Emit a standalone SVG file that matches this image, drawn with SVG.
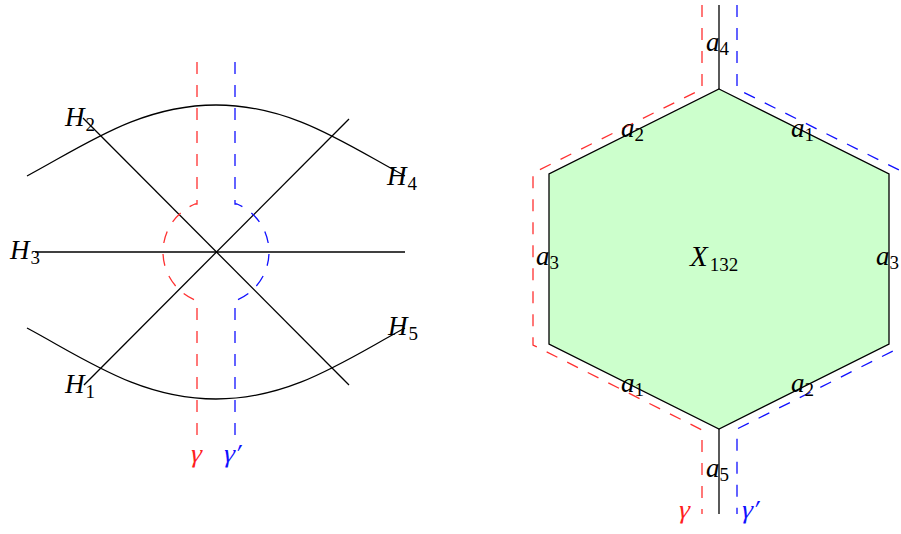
<svg xmlns="http://www.w3.org/2000/svg" width="901" height="534" viewBox="0 0 901 534">
<style>
.ln{fill:none;stroke:#000;stroke-width:1.3}
.r{fill:none;stroke:#ff3030;stroke-width:1.3;stroke-dasharray:12 11}
.b{fill:none;stroke:#1010ff;stroke-width:1.3;stroke-dasharray:12 11}
text{font-family:"Liberation Serif","Times New Roman",serif;font-size:27px;font-style:italic;fill:#000}
.s{font-size:19px;font-style:normal}
.g{font-style:normal;font-size:26px}
.tr{fill:#ff2020}
.tb{fill:#1010ff}
</style>
<rect width="901" height="534" fill="#fff"/>
<g id="connectors">
  <path id="curve-upper" class="ln" d="M27,176 C85,145 140,105 216,105 C292,105 347,145 405,176"/>
  <path id="curve-lower" class="ln" d="M27,328 C85,359 140,399 216,399 C292,399 347,359 405,328"/>
  <path id="H3-line" class="ln" d="M35,252 H405"/>
  <path id="H2-line" class="ln" d="M83,118 L349,385"/>
  <path id="H1-line" class="ln" d="M84,385 L349,119"/>
  <path id="gamma-left" class="r" d="M197,62 V204 H195 A52,52 0 0 0 195,300 H197 V443"/>
  <path id="gammap-left" class="b" d="M235,62 V204 H237 A52,52 0 0 1 237,300 H235 V443"/>
</g>
<g id="X132">
  <polygon points="719,89 889,174 889,344 719,429 549,344 549,174" fill="#ccffcc" stroke="#000" stroke-width="1.3"/>
</g>
<g id="right-connectors">
  <path class="ln" d="M719,5 V89"/>
  <path class="ln" d="M719,429 V514"/>
  <path id="gamma-right" class="r" d="M702,5 V89 L533,173 V345 L702,430 V514"/>
  <path id="gammap-right" class="b" d="M737,5 V89 L907,174 V344 L737,429 V514"/>
</g>
<g id="labels-left">
  <text x="65" y="126">H<tspan class="s" dx="1" dy="5">2</tspan></text>
  <text x="10" y="259">H<tspan class="s" dx="1" dy="5">3</tspan></text>
  <text x="387" y="185">H<tspan class="s" dx="1" dy="5">4</tspan></text>
  <text x="65" y="393">H<tspan class="s" dx="1" dy="5">1</tspan></text>
  <text x="388" y="335">H<tspan class="s" dx="1" dy="5">5</tspan></text>
  <text class="tr g" transform="translate(189,462) skewX(-14)">γ</text>
  <text class="tb g" transform="translate(222,462) skewX(-14)">γ′</text>
</g>
<g id="labels-right">
  <text x="706" y="51">a<tspan class="s" dy="4">4</tspan></text>
  <text x="621" y="137">a<tspan class="s" dy="4">2</tspan></text>
  <text x="791" y="137">a<tspan class="s" dy="4">1</tspan></text>
  <text x="536" y="265">a<tspan class="s" dy="4">3</tspan></text>
  <text x="876" y="265">a<tspan class="s" dy="4">3</tspan></text>
  <text x="690" y="266" style="font-size:29px">X<tspan class="s" dx="2" dy="5">132</tspan></text>
  <text x="621" y="392">a<tspan class="s" dy="4">1</tspan></text>
  <text x="791" y="392">a<tspan class="s" dy="4">2</tspan></text>
  <text x="706" y="477">a<tspan class="s" dy="4">5</tspan></text>
  <text class="tr g" transform="translate(677,518) skewX(-14)">γ</text>
  <text class="tb g" transform="translate(740,518) skewX(-14)">γ′</text>
</g>
</svg>
